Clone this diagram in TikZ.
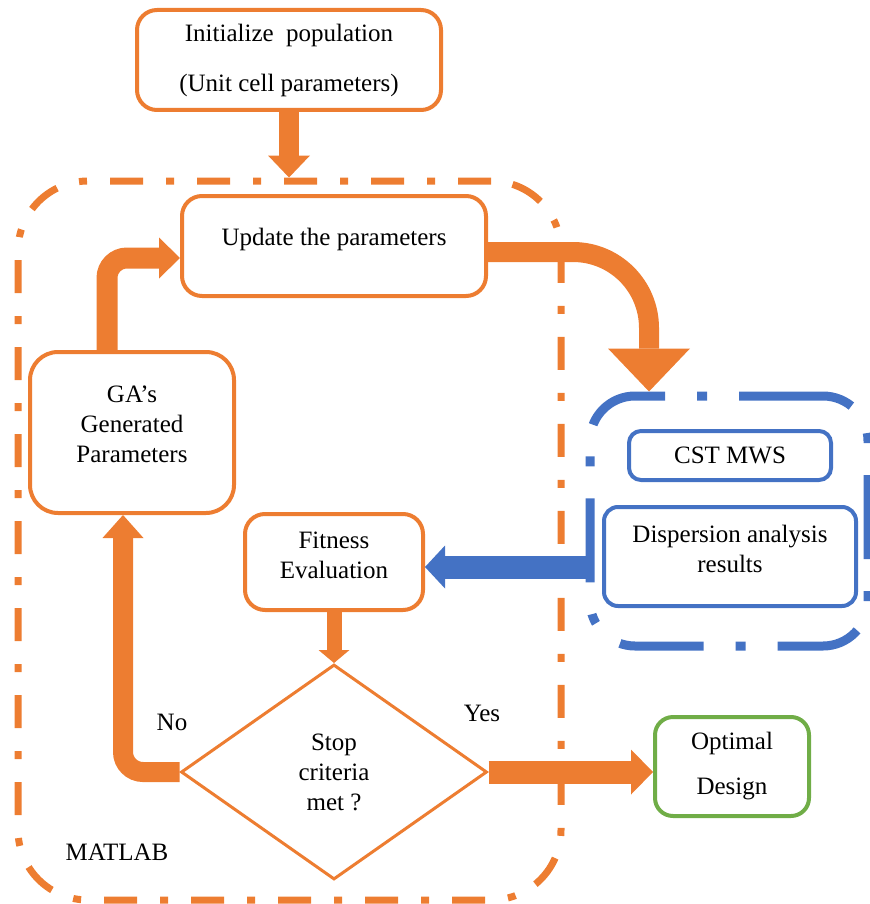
\documentclass[tikz,border=0pt]{standalone}
\usepackage{fontspec}
\setmainfont{Liberation Serif}
\usepackage{tikz}
\usetikzlibrary{arrows.meta,shapes.geometric}
\definecolor{gaorange}{HTML}{ED7D31}
\definecolor{cstblue}{HTML}{4472C4}
\definecolor{optgreen}{HTML}{70AD47}
\tikzset{
	txt/.style={font=\fontsize{12.5}{15}\selectfont, align=center, text=black},
	obox/.style={txt, draw=gaorange, fill=white, line width=2pt, rounded corners=10pt, inner sep=0pt},
	bbox/.style={txt, draw=cstblue, fill=white, line width=2pt, rounded corners=7pt, inner sep=0pt},
	gbox/.style={txt, draw=optgreen, fill=white, line width=2pt, rounded corners=9pt, inner sep=0pt},
	decision/.style={txt, diamond, draw=gaorange, fill=white, line width=1.5pt, inner sep=0pt},
	matlabframe/.style={draw=gaorange, line width=3.5pt, rounded corners=35pt,
		dash pattern=on 16.5pt off 11.5pt on 4pt off 11.5pt},
	cstframe/.style={draw=cstblue, line width=4.5pt, rounded corners=22.5pt,
		dash pattern=on 42pt off 16pt on 5pt off 16pt},
	lbl/.style={font=\fontsize{12.5}{15}\selectfont, inner sep=0pt},
	oarrow/.style n args={3}{draw=gaorange, line width=#1, rounded corners=10pt,
		-{Triangle[width=#2, length=#3, line width=0pt 0]}},
	barrow/.style n args={3}{draw=cstblue, line width=#1,
		-{Triangle[width=#2, length=#3, line width=0pt 0]}}
}
\begin{document}
\begin{tikzpicture}[x=0.5pt, y=-0.5pt]
			\useasboundingbox (0,0) rectangle (870,904);
			%   %   %   %   %   %   %   %   %   %   %
			%   MATLAB and CST frames
				\node[matlabframe, minimum width=271.5pt, minimum height=359.5pt] (matlab) at (289.5,540.5) {};
				\node[cstframe, minimum width=139pt, minimum height=125pt] (cst) at (729,521) {};
				\node[lbl] (matlablbl) at (117,852) {MATLAB};
			%   %   %   %   %   %   %   %   %   %   %
			%   Initialize population
				\node[obox, minimum width=152pt, minimum height=50pt] (init) at (289,60)
				{Initialize\ \ population\\[10pt](Unit cell parameters)};
			%   %   %   %   %   %   %   %   %   %   %
			%   Update the parameters
				\node[obox, minimum width=152pt, minimum height=50pt, text depth=8.7pt] (update) at (334,246)
				{Update the parameters};
			%   %   %   %   %   %   %   %   %   %   %
			%   GA's generated parameters
				\node[obox, rounded corners=14pt, minimum width=102pt, minimum height=80.5pt, text depth=8.5pt] (ga) at (132,432.5)
				{GA’s\\Generated\\Parameters};
			%   %   %   %   %   %   %   %   %   %   %
			%   Fitness evaluation
				\node[obox, minimum width=89pt, minimum height=48pt, text depth=7pt] (fit) at (334,562)
				{Fitness\\Evaluation};
			%   %   %   %   %   %   %   %   %   %   %
			%   Stop criteria
				\node[decision, minimum width=153pt, minimum height=107.5pt] (dec) at (334,772)
				{Stop\\criteria\\met ?};
			%   %   %   %   %   %   %   %   %   %   %
			%   Optimal design
				\node[gbox, minimum width=77pt, minimum height=49.5pt] (opt) at (732,766.5)
				{Optimal\\[7.5pt]Design};
			%   %   %   %   %   %   %   %   %   %   %
			%   CST MWS
				\node[bbox, rounded corners=6pt, minimum width=101pt, minimum height=24.5pt] (mws) at (730,455.5)
				{CST MWS};
				\node[bbox, minimum width=126pt, minimum height=49.5pt, text depth=7.5pt] (disp) at (730,556.5)
				{Dispersion analysis\\results};
			%   %   %   %   %   %   %   %   %   %   %
			%   Arrows
				\draw[oarrow={10pt}{21pt}{11pt}] (init.south) -- (init.south |- matlab.north);
				\draw[oarrow={10.5pt}{20.5pt}{10.5pt}] ([xshift=-12.5pt]ga.north) |- ([yshift=-6pt]update.west);
				\draw[oarrow={10pt}{41pt}{21.5pt}, rounded corners=38pt] ([yshift=-3pt]update.east) -| ([xshift=-40pt]cst.north);
				\coordinate (fitin) at ([yshift=-2.5pt]fit.east);
				\draw[barrow={11.5pt}{21.5pt}{10pt}] (fitin -| cst.west) -- (fitin);
				\draw[oarrow={7.5pt}{15.5pt}{6.5pt}] (fit.south) -- (dec.north);
				\draw[oarrow={10pt}{20.5pt}{11.5pt}] (dec.west) -| ([xshift=-4.5pt]ga.south);
				\draw[oarrow={11.5pt}{22.5pt}{11pt}] (dec.east) -- (dec.east -| opt.west);
			%   %   %   %   %   %   %   %   %   %   %
			%   Branch labels
				\node[lbl] (nolbl) at (172,722) {No};
				\node[lbl] (yeslbl) at (482,713) {Yes};
		\end{tikzpicture}
\end{document}
